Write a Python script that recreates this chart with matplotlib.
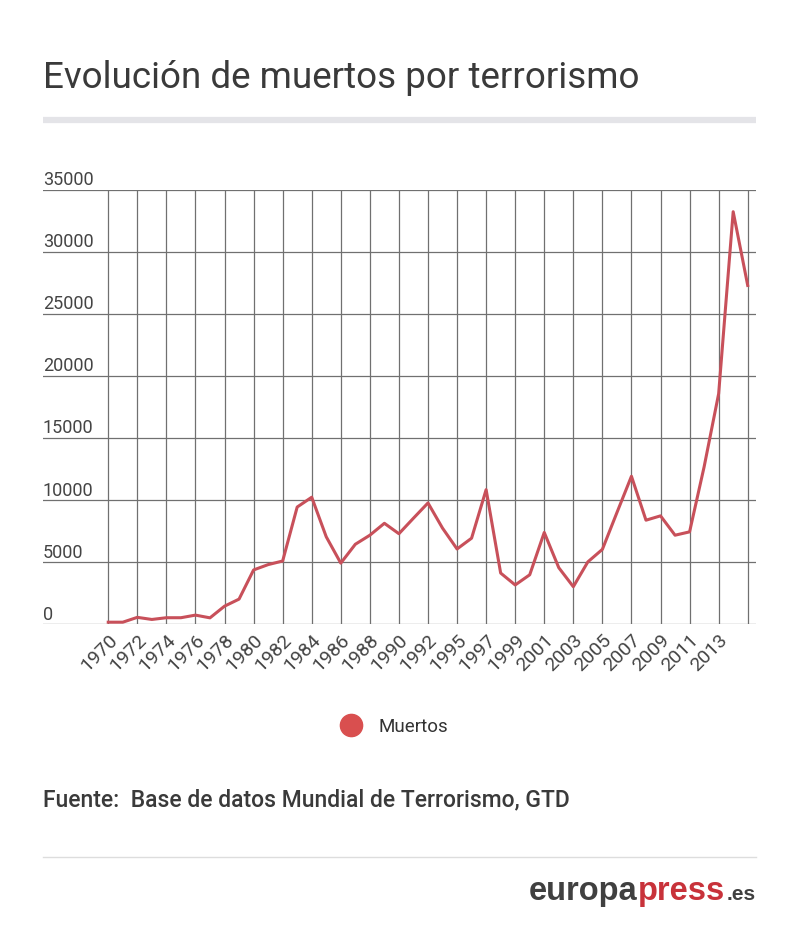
#!/usr/bin/env python
# Evolución de muertos por terrorismo (GTD), estilo europapress.

import matplotlib
matplotlib.use('Agg')
import matplotlib.pyplot as plt
from matplotlib.lines import Line2D

plt.rcParams['font.family'] = ['Roboto', 'DejaVu Sans']

# datos (1993 no figura en la GTD)
years = [1970, 1971, 1972, 1973, 1974, 1975, 1976, 1977, 1978, 1979,
         1980, 1981, 1982, 1983, 1984, 1985, 1986, 1987, 1988, 1989,
         1990, 1991, 1992, 1994, 1995, 1996, 1997, 1998, 1999, 2000,
         2001, 2002, 2003, 2004, 2005, 2006, 2007, 2008, 2009, 2010,
         2011, 2012, 2013, 2014, 2015]
muertos = [170, 170, 560, 390, 530, 530, 740, 520, 1460, 2030,
           4380, 4810, 5100, 9450, 10240, 7050, 4930, 6450, 7180, 8140,
           7300, 8550, 9780, 7750, 6070, 6940, 10850, 4130, 3170, 3990,
           7400, 4560, 3030, 5030, 6040, 9000, 11930, 8390, 8740, 7180,
           7450, 12690, 18580, 33250, 27310]
yticks = [0, 5000, 10000, 15000, 20000, 25000, 30000, 35000]

W, H = 800, 932
fig = plt.figure(figsize=(W / 100, H / 100), dpi=100)
fig.patch.set_facecolor('white')

def fx(px):
    return px / W

def fy(py):
    return 1 - py / H

ax = fig.add_axes([fx(43), fy(624.3), fx(756) - fx(43), fy(190) - fy(624.3)])
x = list(range(len(years)))
ax.plot(x, muertos, color='#c8505a', lw=2.2, solid_joinstyle='round', zorder=3)

ax.set_ylim(0, 35000)
ax.set_xlim(-4.49, 44.57)
for s in ax.spines.values():
    s.set_visible(False)

# rejilla horizontal a lo ancho
for v in yticks:
    ax.axhline(v, color='#707070', lw=0.9, zorder=1)
    ax.annotate(str(v), xy=(0, v), xycoords=ax.get_yaxis_transform(),
                xytext=(0, 0.5), textcoords='offset points',
                ha='left', va='bottom', fontsize=13, color='#444444')
ax.set_yticks([])

# rejilla vertical cada dos años
xt = list(range(0, len(years), 2))
ax.set_xticks(xt)
ax.set_xticklabels([str(years[i]) if i < 43 else '' for i in xt],
                   rotation=45, ha='right', rotation_mode='anchor',
                   fontsize=14, color='#444444')
ax.tick_params(axis='x', length=0, pad=5)
ax.grid(axis='x', color='#707070', lw=0.9, zorder=1)
ax.set_axisbelow(True)

# título y barra
fig.text(fx(43), fy(78), 'Evolución de muertos por terrorismo',
         fontsize=26.5, color='#3a3a3a', ha='left', va='center')
fig.add_artist(Line2D([fx(43), fx(756)], [fy(119.5), fy(119.5)],
                      color='#e4e4e8', lw=4.5, solid_capstyle='butt'))

# leyenda
h = Line2D([], [], marker='o', ls='', color='#d94f4f', markersize=16)
fig.legend(handles=[h], labels=['Muertos'], loc='center',
           bbox_to_anchor=(fx(390), fy(727)), frameon=False,
           fontsize=13.5, handletextpad=0.5, labelcolor='#333333')

# fuente
fig.text(fx(43), fy(800), 'Fuente:  Base de datos Mundial de Terrorismo, GTD',
         fontsize=16.5, fontweight='medium', color='#3a3a3a',
         ha='left', va='center')
fig.add_artist(Line2D([fx(43), fx(756)], [fy(857), fy(857)],
                      color='#dddddd', lw=1))

# logo
logo = dict(family=['Liberation Sans', 'DejaVu Sans'], fontweight='bold')
t1 = fig.text(fx(529), fy(900), 'europa', fontsize=23.5, color='#404040',
              ha='left', va='baseline', **logo)
fig.canvas.draw()
r = fig.canvas.get_renderer()
bb = t1.get_window_extent(r)
t2 = fig.text(bb.x1 / W, fy(900), 'press', fontsize=23.5, color='#c8323a',
              ha='left', va='baseline', **logo)
bb2 = t2.get_window_extent(r)
fig.text(bb2.x1 / W + 0.002, fy(900), '.es', fontsize=15, color='#404040',
         ha='left', va='baseline', **logo)

fig.savefig('out.png', dpi=100, facecolor='white')
